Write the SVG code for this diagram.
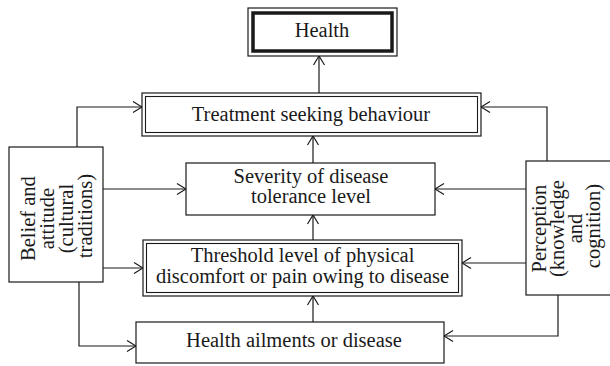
<svg xmlns="http://www.w3.org/2000/svg" width="610" height="366" viewBox="0 0 610 366">
<style>
  .box { fill: #ffffff; stroke: #1a1a1a; stroke-width: 1.2; }
  .thick { fill: none; stroke: #1a1a1a; stroke-width: 3.5; }
  .thin { fill: none; stroke: #1a1a1a; stroke-width: 1.1; }
  .lbl { font-family: "Liberation Serif", "Times New Roman", serif; font-size: 20.5px; fill: #1a1a1a; text-anchor: middle; }
  .conn { fill: none; stroke: #1a1a1a; stroke-width: 1.2; }
</style>
<defs>
  <marker id="arr" markerUnits="userSpaceOnUse" viewBox="-11 -7 12 14" refX="0" refY="0" markerWidth="12" markerHeight="14" orient="auto">
    <path d="M-9,-5.5 L0,0 L-9,5.5" fill="none" stroke="#1a1a1a" stroke-width="1.2"/>
  </marker>
</defs>
<rect width="610" height="366" fill="#ffffff"/>

<g id="connectors">
  <path class="conn" d="M319,93 V56" marker-end="url(#arr)"/>
  <path class="conn" d="M313,163 V136" marker-end="url(#arr)"/>
  <path class="conn" d="M313,240 V215" marker-end="url(#arr)"/>
  <path class="conn" d="M313,322 V296" marker-end="url(#arr)"/>
  <path class="conn" d="M77,147 V107 H142" marker-end="url(#arr)"/>
  <path class="conn" d="M103,189 H186" marker-end="url(#arr)"/>
  <path class="conn" d="M103,268 H143" marker-end="url(#arr)"/>
  <path class="conn" d="M79,282 V346 H136" marker-end="url(#arr)"/>
  <path class="conn" d="M547,161 V107 H481" marker-end="url(#arr)"/>
  <path class="conn" d="M526,189 H435" marker-end="url(#arr)"/>
  <path class="conn" d="M526,263 H462" marker-end="url(#arr)"/>
  <path class="conn" d="M558,295 V336 H444" marker-end="url(#arr)"/>
</g>

<g id="health">
  <rect class="box" x="248" y="8" width="149" height="48"/>
  <rect class="thick" x="253" y="13" width="139" height="38"/>
  <text class="lbl" x="322" y="37">Health</text>
</g>

<g id="treatment">
  <rect class="box" x="142" y="93" width="339" height="43"/>
  <rect class="thin" x="145.5" y="96.5" width="332" height="36"/>
  <text class="lbl" x="311" y="121">Treatment seeking behaviour</text>
</g>

<g id="severity">
  <rect class="box" x="186" y="163" width="249" height="52"/>
  <text class="lbl" x="311" y="183">Severity of disease</text>
  <text class="lbl" x="311" y="203">tolerance level</text>
</g>

<g id="threshold">
  <rect class="box" x="143" y="240" width="319" height="56"/>
  <rect class="thin" x="146.5" y="243.5" width="312" height="49"/>
  <text class="lbl" x="302.5" y="262">Threshold level of physical</text>
  <text class="lbl" x="302.5" y="283">discomfort or pain owing to disease</text>
</g>

<g id="ailments">
  <rect class="box" x="136" y="322" width="308" height="41"/>
  <text class="lbl" x="294" y="347">Health ailments or disease</text>
</g>

<g id="belief">
  <rect class="box" x="9" y="147" width="94" height="135"/>
  <text class="lbl" transform="translate(56,216) rotate(-90)">
    <tspan x="0" y="-21">Belief and</tspan>
    <tspan x="0" y="-2">attitude</tspan>
    <tspan x="0" y="17">(cultural</tspan>
    <tspan x="0" y="36">traditions)</tspan>
  </text>
</g>

<g id="perception">
  <rect class="box" x="526" y="161" width="90" height="134"/>
  <text class="lbl" transform="translate(567,226) rotate(-90)">
    <tspan x="0" y="-21">Perception</tspan>
    <tspan x="0" y="-3">(knowledge</tspan>
    <tspan x="0" y="15">and</tspan>
    <tspan x="0" y="33">cognition)</tspan>
  </text>
</g>
</svg>
